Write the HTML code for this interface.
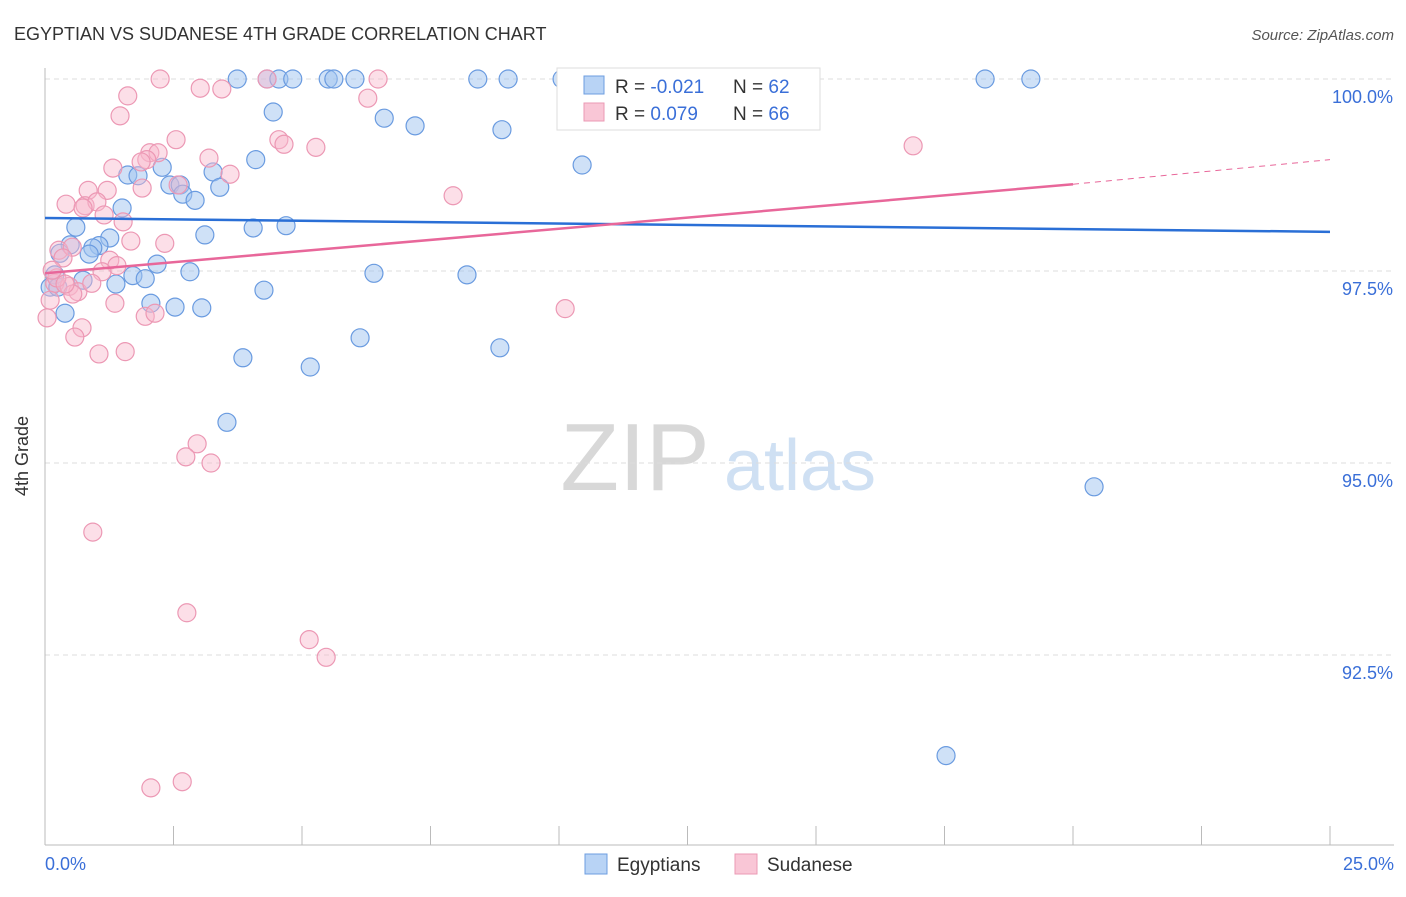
<!DOCTYPE html>
<html><head><meta charset="utf-8"><style>
body{margin:0;background:#fff;font-family:"Liberation Sans",sans-serif}
svg text{font-family:"Liberation Sans",sans-serif}
</style></head><body>
<svg width="1406" height="892" xmlns="http://www.w3.org/2000/svg">
<text x="14" y="40" font-size="18" fill="#333">EGYPTIAN VS SUDANESE 4TH GRADE CORRELATION CHART</text>
<text x="1394" y="40" font-size="15" fill="#555" font-style="italic" text-anchor="end">Source: ZipAtlas.com</text>
<g>
<text x="635" y="490" font-size="96" fill="#d8d8d8" font-family="Liberation Serif" text-anchor="middle">ZIP</text>
<text x="800" y="490" font-size="72" fill="#cfe0f3" text-anchor="middle">atlas</text>
</g>
<g id="grid"></g><g id="axes"></g><g id="pts"></g><g id="lines"></g>
<text x="28" y="456" font-size="18" fill="#333" transform="rotate(-90 28 456)" text-anchor="middle">4th Grade</text>
<g>
<rect x="557" y="68" width="263" height="62" fill="#fff" stroke="#ddd"/>
<rect x="584" y="76" width="20" height="18" fill="#b8d3f5" stroke="#6d9ee0"/>
<rect x="584" y="103" width="20" height="18" fill="#f9c6d6" stroke="#eb9ab4"/>
<text x="615" y="93" font-size="19" fill="#333">R = <tspan fill="#3a6fd8">-0.021</tspan></text>
<text x="733" y="93" font-size="19" fill="#333">N = <tspan fill="#3a6fd8">62</tspan></text>
<text x="615" y="120" font-size="19" fill="#333">R = <tspan fill="#3a6fd8"> 0.079</tspan></text>
<text x="733" y="120" font-size="19" fill="#333">N = <tspan fill="#3a6fd8">66</tspan></text>
</g>
<g>
<rect x="585" y="854" width="22" height="20" fill="#b8d3f5" stroke="#6d9ee0"/>
<text x="617" y="871" font-size="19" fill="#333">Egyptians</text>
<rect x="735" y="854" width="22" height="20" fill="#f9c6d6" stroke="#eb9ab4"/>
<text x="767" y="871" font-size="19" fill="#333">Sudanese</text>
</g>
</svg>
<script>
const yTicks=[100,97.5,95,92.5];
const yTickLabels=["100.0%","97.5%","95.0%","92.5%"];
const xTickLabels=["0.0%","25.0%"];
const egyX=[3.74,4.32,4.55,4.82,5.51,5.62,6.03,8.42,9.01,10.06,13.52,18.29,19.18,4.44,6.60,7.20,8.89,10.45,4.10,2.28,3.27,1.61,1.81,2.43,2.63,2.68,2.92,3.40,1.50,0.60,4.05,4.69,3.11,1.26,0.49,1.05,0.93,0.29,0.86,2.18,2.82,6.40,8.21,0.19,0.74,1.71,1.95,1.38,4.26,0.10,0.25,2.06,2.53,3.05,0.39,6.13,3.85,8.85,5.16,3.54,20.41,17.53];
const egyY=[100,100,100,100,100,100,100,100,100,100,100,100,100,99.57,99.49,99.39,99.34,98.88,98.95,98.85,98.79,98.75,98.74,98.62,98.62,98.50,98.42,98.59,98.32,98.07,98.06,98.09,97.97,97.93,97.84,97.83,97.80,97.73,97.72,97.59,97.49,97.47,97.45,97.45,97.38,97.44,97.40,97.33,97.25,97.29,97.29,97.08,97.03,97.02,96.95,96.63,96.37,96.50,96.25,95.53,94.69,91.19];
const sudX=[2.24,4.32,6.48,3.02,3.44,1.61,6.28,1.46,4.55,4.65,5.27,2.55,2.04,2.20,1.98,1.87,3.19,1.32,3.60,1.89,2.59,7.94,16.89,0.84,1.21,0.41,0.78,1.01,1.15,1.52,0.74,0.27,0.53,1.67,2.33,0.35,1.26,1.40,1.11,0.19,0.47,0.64,0.91,0.54,1.36,1.95,2.14,0.04,0.72,0.58,1.05,1.56,10.12,2.96,2.74,3.23,0.93,2.76,5.14,5.47,2.06,2.67,0.10,0.23,0.14,0.39];
const sudY=[100,100,100,99.88,99.87,99.78,99.75,99.52,99.21,99.15,99.11,99.21,99.04,99.04,98.95,98.92,98.97,98.84,98.76,98.58,98.62,98.48,99.13,98.55,98.55,98.37,98.35,98.40,98.23,98.14,98.32,97.77,97.81,97.89,97.86,97.67,97.64,97.57,97.49,97.34,97.30,97.23,97.34,97.20,97.08,96.91,96.95,96.89,96.76,96.64,96.42,96.45,97.01,95.25,95.08,95.00,94.10,93.05,92.70,92.47,90.77,90.85,97.12,97.41,97.51,97.33];
const egyTrend=[98.19,98.01];
const sudTrend=[97.47,98.63,98.95];
const NS="http://www.w3.org/2000/svg";
const sx=v=>45+v/25*1285;
const sy=v=>79+(100-v)/2.5*192;
function mk(tag,attrs,parent){const e=document.createElementNS(NS,tag);for(const k in attrs)e.setAttribute(k,attrs[k]);document.getElementById(parent).appendChild(e);return e;}
yTicks.forEach((t,i)=>{
 const g=mk('line',{x1:45,x2:1394,y1:sy(t),y2:sy(t),stroke:'#ddd','stroke-dasharray':'5,4'},'grid');
 
 
 const l=mk('text',{x:1393,y:sy(t)+24,'font-size':18,fill:'#3a6fd8','text-anchor':'end'},'grid');
 l.textContent=yTickLabels[i];
 
 
});
const ax=mk('line',{x1:45,x2:1394,y1:845,y2:845,stroke:'#bbb'},'axes');


const ay=mk('line',{x1:45,x2:45,y1:68,y2:845,stroke:'#bbb'},'axes');


for(let i=0;i<=10;i++){
 const t=mk('line',{x1:sx(i*2.5),x2:sx(i*2.5),y1:826,y2:845,stroke:'#bbb'},'axes');
 
 
}
const xl0=mk('text',{x:45,y:870,'font-size':18,fill:'#3a6fd8'},'axes');xl0.textContent=xTickLabels[0];


const xl1=mk('text',{x:1394,y:870,'font-size':18,fill:'#3a6fd8','text-anchor':'end'},'axes');xl1.textContent=xTickLabels[1];


egyX.forEach((x,i)=>{
 const c=mk('circle',{cx:sx(x),cy:sy(egyY[i]),r:9,fill:'rgba(160,195,240,0.5)',stroke:'#6a9be0','stroke-width':1.2},'pts');
 
 
});
sudX.forEach((x,i)=>{
 const c=mk('circle',{cx:sx(x),cy:sy(sudY[i]),r:9,fill:'rgba(248,185,205,0.45)',stroke:'#ec98b4','stroke-width':1.2},'pts');
 
 
});
const bl=mk('line',{x1:sx(0),y1:sy(egyTrend[0]),x2:sx(25),y2:sy(egyTrend[1]),stroke:'#2a6fd6','stroke-width':2.5},'lines');


const pl=mk('line',{x1:sx(0),y1:sy(sudTrend[0]),x2:sx(20),y2:sy(sudTrend[1]),stroke:'#e8679a','stroke-width':2.5},'lines');


const pd=mk('line',{x1:sx(20),y1:sy(sudTrend[1]),x2:sx(25),y2:sy(sudTrend[2]),stroke:'#e8679a','stroke-width':1,'stroke-dasharray':'6,5'},'lines');


</script>
</body></html>
